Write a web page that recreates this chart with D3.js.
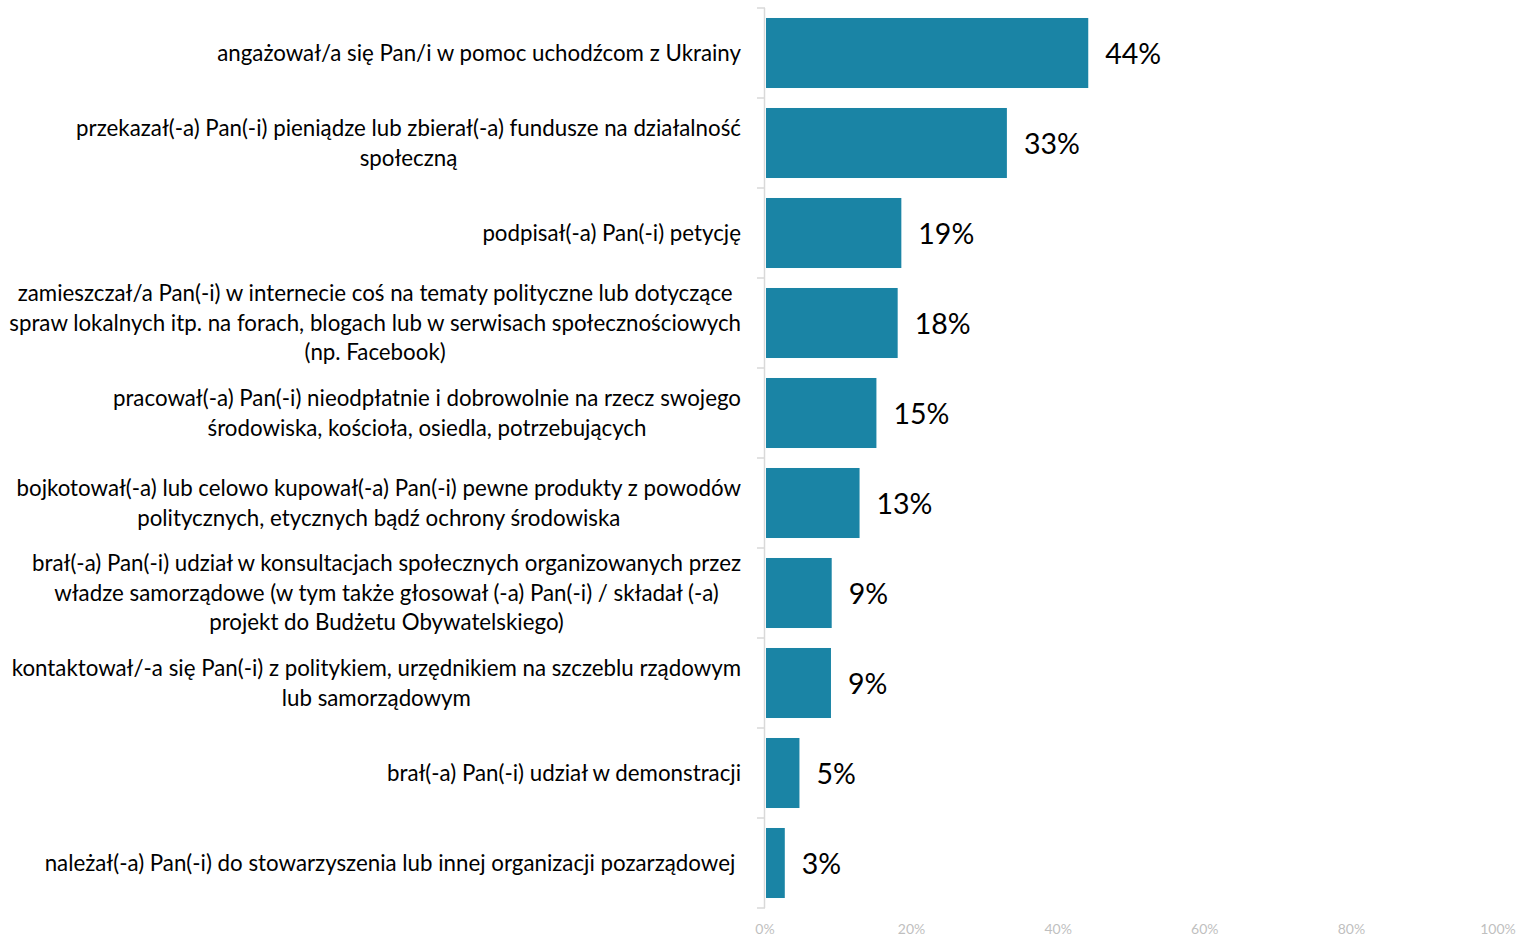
<!DOCTYPE html>
<html><head><meta charset="utf-8">
<script src="https://cdn.jsdelivr.net/npm/d3@7"></script>
<style>body{margin:0;background:#fff}svg{display:block}</style>
</head><body>
<svg id="c" width="1529" height="936"></svg>
<script>
const categories = [
  ["angażował/a się Pan/i w pomoc uchodźcom z Ukrainy"],
  ["przekazał(-a) Pan(-i) pieniądze lub zbierał(-a) fundusze na działalność","społeczną"],
  ["podpisał(-a) Pan(-i) petycję"],
  ["zamieszczał/a Pan(-i) w internecie coś na tematy polityczne lub dotyczące","spraw lokalnych itp. na forach, blogach lub w serwisach społecznościowych","(np. Facebook)"],
  ["pracował(-a) Pan(-i) nieodpłatnie i dobrowolnie na rzecz swojego","środowiska, kościoła, osiedla, potrzebujących"],
  ["bojkotował(-a) lub celowo kupował(-a) Pan(-i) pewne produkty z powodów","politycznych, etycznych bądź ochrony środowiska"],
  ["brał(-a) Pan(-i) udział w konsultacjach społecznych organizowanych przez","władze samorządowe (w tym także głosował (-a) Pan(-i) / składał (-a)","projekt do Budżetu Obywatelskiego)"],
  ["kontaktował/-a się Pan(-i) z politykiem, urzędnikiem na szczeblu rządowym","lub samorządowym"],
  ["brał(-a) Pan(-i) udział w demonstracji"],
  ["należał(-a) Pan(-i) do stowarzyszenia lub innej organizacji pozarządowej\u00a0"]
];
const values = [44.1, 33.0, 18.6, 18.1, 15.2, 12.9, 9.1, 9.0, 4.7, 2.7];
const tickValues = [0, 20, 40, 60, 80, 100];

const svg = d3.select("#c");
const font = "Lato, 'Open Sans', sans-serif";
const x = d3.scaleLinear().domain([0, 100]).range([765, 1498]);
const y = d3.scaleBand().domain(d3.range(categories.length)).range([8, 908]).paddingInner(0.222).paddingOuter(0.111);

const axisG = svg.append("g");
axisG.append("line").attr("x1", 764.5).attr("x2", 764.5).attr("y1", 8).attr("y2", 908)
  .attr("stroke", "#d9d9d9").attr("stroke-width", 1.5);
const bounds = d3.range(categories.length + 1).map(i => 8 + i * (900 / categories.length));
axisG.selectAll("line.t").data(bounds).join("line").attr("class", "t")
  .attr("x1", 757).attr("x2", 765).attr("y1", d => d).attr("y2", d => d)
  .attr("stroke", "#d9d9d9").attr("stroke-width", 1.5);

svg.append("g").selectAll("rect").data(values).join("rect")
  .attr("x", x(0) + 1).attr("y", (d, i) => y(i))
  .attr("width", d => x(d) - x(0) - 1).attr("height", y.bandwidth())
  .attr("fill", "#1a84a5");

svg.append("g").selectAll("text").data(values).join("text")
  .attr("x", d => x(d) + 17).attr("y", (d, i) => y(i) + y.bandwidth() / 2)
  .attr("dy", "0.38em").attr("font-family", font).attr("font-size", 28.5)
  .attr("fill", "#000").text(d => Math.round(d) + "%");

const fs = 22.3, lh = 29.5;
const labG = svg.append("g").attr("font-family", font).attr("font-size", fs).attr("fill", "#000");
categories.forEach((lines, i) => {
  const cy = y(i) + y.bandwidth() / 2;
  const t = labG.append("text").attr("text-anchor", "middle");
  const spans = lines.map((s, k) => t.append("tspan").attr("y", cy + (k - (lines.length - 1) / 2) * lh).attr("dy", "0.35em").text(s));
  const maxW = d3.max(spans, sp => sp.node().getComputedTextLength());
  const cx = 741 - maxW / 2;
  spans.forEach(sp => sp.attr("x", cx));
});

svg.append("g").selectAll("text").data(tickValues).join("text")
  .attr("x", d => x(d)).attr("y", 929).attr("dy", "0.35em")
  .attr("text-anchor", "middle").attr("font-family", font).attr("font-size", 14)
  .attr("fill", "#bfbfbf").text(d => d + "%");
</script>
</body></html>
